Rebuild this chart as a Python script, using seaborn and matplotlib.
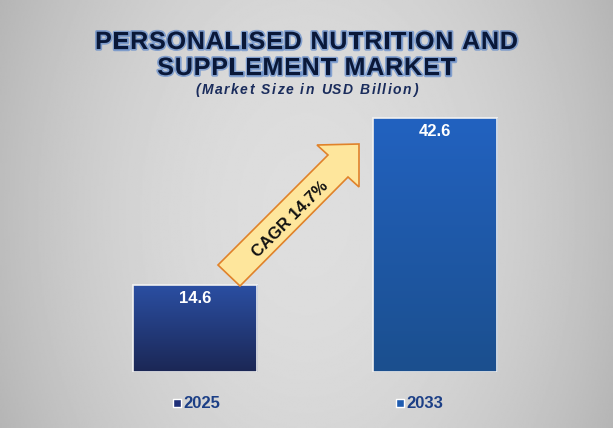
import matplotlib
matplotlib.use('Agg')
import matplotlib.pyplot as plt
import matplotlib.patheffects as pe
from matplotlib.patches import Polygon
from matplotlib.font_manager import FontProperties
import seaborn as sns
import pandas as pd
import numpy as np

# data
years = ['2025', '2033']
market_size = [14.6, 42.6]
cagr_label = 'CAGR 14.7%'

sns.set_theme(style='white')
plt.rcParams['font.family'] = ['Liberation Sans', 'DejaVu Sans']

W, H = 613, 428
fig = plt.figure(figsize=(W / 100, H / 100), dpi=100)
renderer = fig.canvas.get_renderer()


def spaced_text(xc, y, s, spacing, **kw):
    # draw text char by char with extra letter spacing (pixel units)
    prop = FontProperties(family=plt.rcParams['font.family'], size=kw.get('fontsize', 10),
                          weight=kw.get('fontweight', 'normal'), style=kw.get('fontstyle', 'normal'))
    widths = [renderer.get_text_width_height_descent(ch, prop, ismath=False)[0] for ch in s]
    total = sum(widths) + spacing * (len(s) - 1)
    x = xc - total / 2
    for ch, w in zip(s, widths):
        fig.text(x / W, 1 - y / H, ch, ha='left', va='center', **kw)
        x += w + spacing


# grey background, lighter in the middle
bg = fig.add_axes([0, 0, 1, 1])
xx = np.linspace(-1, 1, 400)
yy = np.linspace(-1, 1, 300)
X, Y = np.meshgrid(xx, yy)
shade = 0.87 - 0.13 * X ** 2 - 0.03 * Y ** 2
bg.imshow(shade, cmap='gray', vmin=0, vmax=1, aspect='auto', extent=[0, 1, 0, 1])
bg.set_axis_off()

# main axes
ax = fig.add_axes([75 / W, (H - 372) / H, 480 / W, 272 / H])
ax.patch.set_alpha(0)
df = pd.DataFrame({'Year': years, 'Size': market_size})
sns.barplot(data=df, x='Year', y='Size', ax=ax, width=0.52,
            color='#2a50a8', edgecolor='#f0f0f0', linewidth=1.2, zorder=2)
ax.set_xlim(-0.5, 1.5)
ax.set_ylim(0, 272 / 5.96)
ax.set_axis_off()

# gradient fill for bars
grads = [('#2b4fa3', '#1b2755'), ('#2262c0', '#1b4f8e')]
for patch, (top, bot) in zip(list(ax.patches), grads):
    x0, w, h = patch.get_x(), patch.get_width(), patch.get_height()
    cmap = matplotlib.colors.LinearSegmentedColormap.from_list('g', [bot, top])
    g = np.linspace(0, 1, 100).reshape(-1, 1)
    im = ax.imshow(g, cmap=cmap, aspect='auto', origin='lower',
                   extent=[x0, x0 + w, 0, h], zorder=2.5)
    im.set_clip_path(patch)
    ax.bar(x0 + w / 2, h, width=w, fill=False, edgecolor='#eeeeee', linewidth=1.2, zorder=3)
    ax.text(x0 + w / 2, h - 1.0, f'{h:.1f}', ha='center', va='top', color='white',
            fontsize=12, fontweight='bold', zorder=4)

# year labels with small squares
sq_colors = ['#1f2f78', '#1f5cb0']
offsets = [0.01, -0.06]
tr = matplotlib.transforms.blended_transform_factory(ax.transData, fig.transFigure)
for i, (yr, c, off) in enumerate(zip(years, sq_colors, offsets)):
    ax.scatter([i + off - 0.085], [(H - 403) / H], marker='s', s=40, color=c,
               edgecolor='white', linewidth=1, transform=tr, clip_on=False, zorder=5)
    ax.text(i + off - 0.06, (H - 403) / H, yr, transform=tr, ha='left', va='center',
            fontsize=12, fontweight='bold', color='#1c3f86')

# CAGR arrow
pts = [(218, 265), (328, 155), (317, 145), (359, 144), (359, 187), (348, 177), (240, 286)]
arrow = Polygon([(x / W, 1 - y / H) for x, y in pts], closed=True, transform=fig.transFigure,
                facecolor='#fee69c', edgecolor='#e0822a', linewidth=1.2, zorder=10)
fig.patches.append(arrow)
fig.text(290 / W, 1 - 219 / H, cagr_label, rotation=45, ha='center', va='center',
         fontsize=12, fontweight='bold', color='#111111', zorder=11)

# titles
glow = [pe.withStroke(linewidth=2.5, foreground='#3f74c8', alpha=0.55)]
spaced_text(W / 2, 42, 'PERSONALISED NUTRITION AND', 0.9, fontsize=18, fontweight='bold',
            color='#0a1838', path_effects=glow)
spaced_text(W / 2, 68, 'SUPPLEMENT MARKET', 0.9, fontsize=18, fontweight='bold',
            color='#0a1838', path_effects=glow)
spaced_text(W / 2, 90, '(Market Size in USD Billion)', 1.5, fontsize=10, fontweight='bold',
            fontstyle='italic', color='#1a2c5c')

fig.savefig('out.png', dpi=100)
